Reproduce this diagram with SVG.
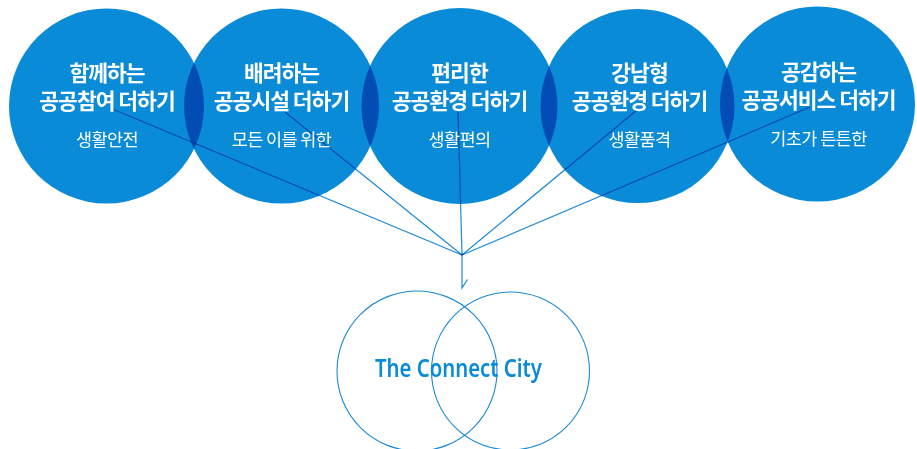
<svg xmlns="http://www.w3.org/2000/svg" width="917" height="449" viewBox="0 0 917 449">
<style>
.c{fill:#0a8bd7;mix-blend-mode:multiply}
.t{font-family:"Noto Sans CJK KR","Noto Sans",sans-serif;fill:#fff;text-anchor:middle}
.h{font-size:21.5px;font-weight:700;letter-spacing:-1px}
.s{font-size:17.5px;font-weight:400;letter-spacing:-0.6px}
.ln{stroke:#1a8ad6;stroke-width:1.2;fill:none;mix-blend-mode:multiply}
.o{stroke:#1a8ad6;stroke-width:1.1;fill:none}
</style>
<rect width="917" height="449" fill="#fff"/>
<g id="circles">
<circle class="c" cx="106.5" cy="106" r="97.5"/>
<circle class="c" cx="281.5" cy="106" r="97.5"/>
<circle class="c" cx="459.5" cy="106" r="98"/>
<circle class="c" cx="637.5" cy="106" r="97"/>
<circle class="c" cx="817.5" cy="104" r="97.5"/>
</g>
<g id="connectors">
<line class="ln" x1="110" y1="108" x2="462" y2="255"/>
<line class="ln" x1="285" y1="112" x2="462" y2="255"/>
<line class="ln" x1="458" y1="110" x2="462" y2="255"/>
<line class="ln" x1="637" y1="110" x2="462" y2="255"/>
<line class="ln" x1="810" y1="107" x2="462" y2="255"/>
<polyline class="ln" points="462,255 462,288 467.5,279.5"/>
</g>
<g id="node1">
<text class="t h" x="107" y="81">함께하는</text>
<text class="t h" x="107" y="109">공공참여 더하기</text>
<text class="t s" x="107" y="146">생활안전</text>
</g>
<g id="node2">
<text class="t h" x="281.5" y="81">배려하는</text>
<text class="t h" x="281.5" y="109">공공시설 더하기</text>
<text class="t s" x="281.5" y="146">모든 이를 위한</text>
</g>
<g id="node3">
<text class="t h" x="459.5" y="81">편리한</text>
<text class="t h" x="459.5" y="109">공공환경 더하기</text>
<text class="t s" x="459.5" y="146">생활편의</text>
</g>
<g id="node4">
<text class="t h" x="639.5" y="81">강남형</text>
<text class="t h" x="639.5" y="109">공공환경 더하기</text>
<text class="t s" x="639.5" y="146">생활품격</text>
</g>
<g id="node5">
<text class="t h" x="818.5" y="80">공감하는</text>
<text class="t h" x="818.5" y="108">공공서비스 더하기</text>
<text class="t s" x="818.5" y="145">기초가 튼튼한</text>
</g>
<g id="city">
<circle class="o" cx="417" cy="371" r="80"/>
<circle class="o" cx="510.5" cy="371" r="79"/>
<text x="375" y="377" textLength="167" lengthAdjust="spacingAndGlyphs" style="font-family:'Noto Sans',sans-serif;font-size:25px;font-weight:600;fill:#0a8bd7">The Connect City</text>
</g>
</svg>
